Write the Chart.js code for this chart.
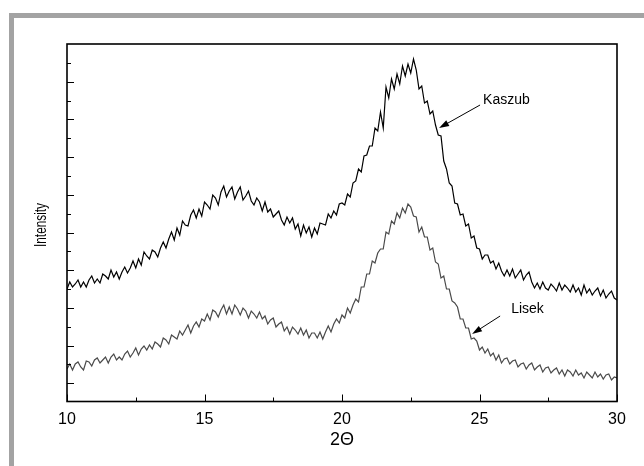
<!DOCTYPE html>
<html>
<head>
<meta charset="utf-8">
<script src="https://cdn.jsdelivr.net/npm/chart.js@4.4.1/dist/chart.umd.min.js"></script>
<style>
  body { margin: 0; background: #fff; overflow: hidden; }
  #frame {
    position: absolute; left: 9px; top: 13px; width: 700px; height: 520px;
    border-top: 5px solid #a3a3a3; border-left: 5px solid #a3a3a3;
  }
  #myChart { position: absolute; left: 0; top: 0; }
</style>
</head>
<body>
<div id="frame"></div>
<canvas id="myChart" width="644" height="466"></canvas>
<script>
// intensity, 2Theta = 10.0 ... 30.0 in 0.1 steps
const kaszub = [
  111,118,113,116,120,113,118,113,120,124,
  117,121,117,126,124,121,130,123,128,121,
  128,133,127,132,139,132,141,135,148,144,
  141,150,148,143,152,158,152,161,168,160,
  172,165,179,175,174,185,190,182,191,184,
  198,195,191,205,202,195,208,214,203,209,
  213,201,208,213,200,204,209,199,195,202,
  198,189,198,188,191,183,186,189,180,175,
  183,177,182,171,176,164,175,167,173,163,
  172,166,177,176,175,186,182,189,185,196,
  197,195,206,203,217,219,231,228,244,245,
  254,254,272,269,288,272,313,302,321,311,
  326,316,334,324,336,327,341,330,311,314,
  297,299,286,289,275,265,264,239,231,217,
  214,197,196,185,186,174,176,162,164,152,
  151,141,145,145,137,139,131,137,129,124,
  130,124,131,122,126,130,120,125,128,118,
  112,117,111,118,112,110,116,113,109,117,
  110,115,112,108,115,108,112,105,115,107,
  111,105,109,112,104,110,102,106,109,102,
  100
];
const lisek = [
  31,36,30,36,38,33,30,39,38,34,
  40,42,37,40,43,37,43,46,40,43,
  40,46,49,43,47,52,45,51,54,50,
  55,51,58,56,53,62,60,56,65,63,
  61,69,65,70,75,67,74,78,73,81,
  79,86,80,90,88,83,90,95,86,93,
  86,95,91,85,92,89,82,89,86,82,
  88,81,84,76,80,82,73,76,78,69,
  73,66,73,70,66,72,65,70,62,67,
  67,62,68,61,68,74,68,76,81,77,
  85,82,92,87,95,101,98,113,113,126,
  126,139,137,147,151,151,168,166,179,176,
  187,182,192,187,196,193,184,183,168,173,
  163,163,150,152,138,136,122,124,111,111,
  99,97,93,81,81,72,72,61,62,59,
  50,53,47,51,44,47,40,45,37,41,
  42,36,39,40,33,36,37,31,35,37,
  30,33,35,28,32,33,27,30,32,26,
  30,24,30,28,24,30,25,27,22,28,
  25,22,28,23,26,21,25,26,20,23,
  22
];
const angles = kaszub.map((v, i) => +(10 + i * 0.1).toFixed(1));
const xTickLabels = [10, 15, 20, 25, 30];

const FONT = '"Liberation Sans", Arial, sans-serif';

function arrow(ctx, x1, y1, x2, y2) {
  const ang = Math.atan2(y2 - y1, x2 - x1);
  ctx.beginPath();
  ctx.moveTo(x1, y1);
  ctx.lineTo(x2 - 6 * Math.cos(ang), y2 - 6 * Math.sin(ang));
  ctx.stroke();
  ctx.beginPath();
  ctx.moveTo(x2, y2);
  ctx.lineTo(x2 - 10 * Math.cos(ang) + 3.2 * Math.sin(ang), y2 - 10 * Math.sin(ang) - 3.2 * Math.cos(ang));
  ctx.lineTo(x2 - 10 * Math.cos(ang) - 3.2 * Math.sin(ang), y2 - 10 * Math.sin(ang) + 3.2 * Math.cos(ang));
  ctx.closePath();
  ctx.fill();
}

const decor = {
  id: 'decor',
  afterDraw(chart) {
    const { ctx, chartArea: a, scales: { x, y } } = chart;
    ctx.save();
    ctx.strokeStyle = '#000';
    ctx.fillStyle = '#000';
    ctx.lineWidth = 1;

    // inward ticks, bottom axis
    for (let v = 10; v <= 30; v += 2.5) {
      const px = Math.round(x.getPixelForValue(v)) + 0.5;
      const len = v % 5 === 0 ? 7 : 4;
      ctx.beginPath();
      ctx.moveTo(px, a.bottom);
      ctx.lineTo(px, a.bottom - len);
      ctx.stroke();
    }
    // inward ticks, left axis (no labels)
    for (let k = 0; k < 18; k++) {
      const py = Math.round(y.getPixelForValue(16.7 + 18.85 * k)) + 0.5;
      const len = k % 2 === 0 ? 7 : 4;
      ctx.beginPath();
      ctx.moveTo(a.left, py);
      ctx.lineTo(a.left + len, py);
      ctx.stroke();
    }

    ctx.lineWidth = 1.6;
    ctx.strokeRect(a.left, a.top, a.right - a.left, a.bottom - a.top);

    // axis titles
    ctx.font = '18px ' + FONT;
    ctx.textAlign = 'center';
    ctx.textBaseline = 'middle';
    ctx.fillText('2\u0398', (a.left + a.right) / 2, 440);

    ctx.save();
    ctx.font = '16px ' + FONT;
    ctx.translate(42, 225);
    ctx.rotate(-Math.PI / 2);
    const w = ctx.measureText('Intensity').width;
    ctx.scale(44 / w, 1);
    ctx.fillText('Intensity', 0, 0);
    ctx.restore();

    // labels with arrows
    ctx.font = '14px ' + FONT;
    ctx.textAlign = 'left';
    ctx.lineWidth = 1;
    ctx.fillText('Kaszub', x.getPixelForValue(25.13), y.getPixelForValue(300));
    arrow(ctx, x.getPixelForValue(25.02), y.getPixelForValue(295),
      x.getPixelForValue(23.53), y.getPixelForValue(272));
    ctx.fillText('Lisek', x.getPixelForValue(26.15), y.getPixelForValue(91));
    arrow(ctx, x.getPixelForValue(25.75), y.getPixelForValue(84),
      x.getPixelForValue(24.73), y.getPixelForValue(66));
    ctx.restore();
  }
};

new Chart(document.getElementById('myChart'), {
  type: 'line',
  data: {
    labels: angles,
    datasets: [{
      label: 'Kaszub',
      data: angles.map((a, i) => ({ x: a, y: kaszub[i] })),
      borderColor: '#000000',
      borderWidth: 1.2,
      pointRadius: 0,
      tension: 0,
      fill: false
    }, {
      label: 'Lisek',
      data: angles.map((a, i) => ({ x: a, y: lisek[i] })),
      borderColor: '#4a4a4a',
      borderWidth: 1.2,
      pointRadius: 0,
      tension: 0,
      fill: false
    }]
  },
  options: {
    responsive: false,
    animation: false,
    devicePixelRatio: 1,
    layout: { padding: { left: 0, top: 44, right: 27, bottom: 0 } },
    plugins: { legend: { display: false }, tooltip: { enabled: false } },
    scales: {
      x: {
        type: 'linear',
        min: 10,
        max: 30,
        grid: { display: false, drawTicks: false },
        border: { display: false },
        afterBuildTicks: (s) => { s.ticks = xTickLabels.map(v => ({ value: v })); },
        afterFit: (s) => { s.height = 64.5; },
        ticks: {
          padding: 8,
          color: '#000',
          font: { family: FONT, size: 16 },
          maxRotation: 0,
          autoSkip: false,
          callback: (v) => String(v)
        }
      },
      y: {
        min: -1.5,
        max: 356,
        grid: { display: false, drawTicks: false },
        border: { display: false },
        ticks: { display: false },
        afterFit: (s) => { s.width = 67; }
      }
    }
  },
  plugins: [decor]
});
</script>
</body>
</html>
